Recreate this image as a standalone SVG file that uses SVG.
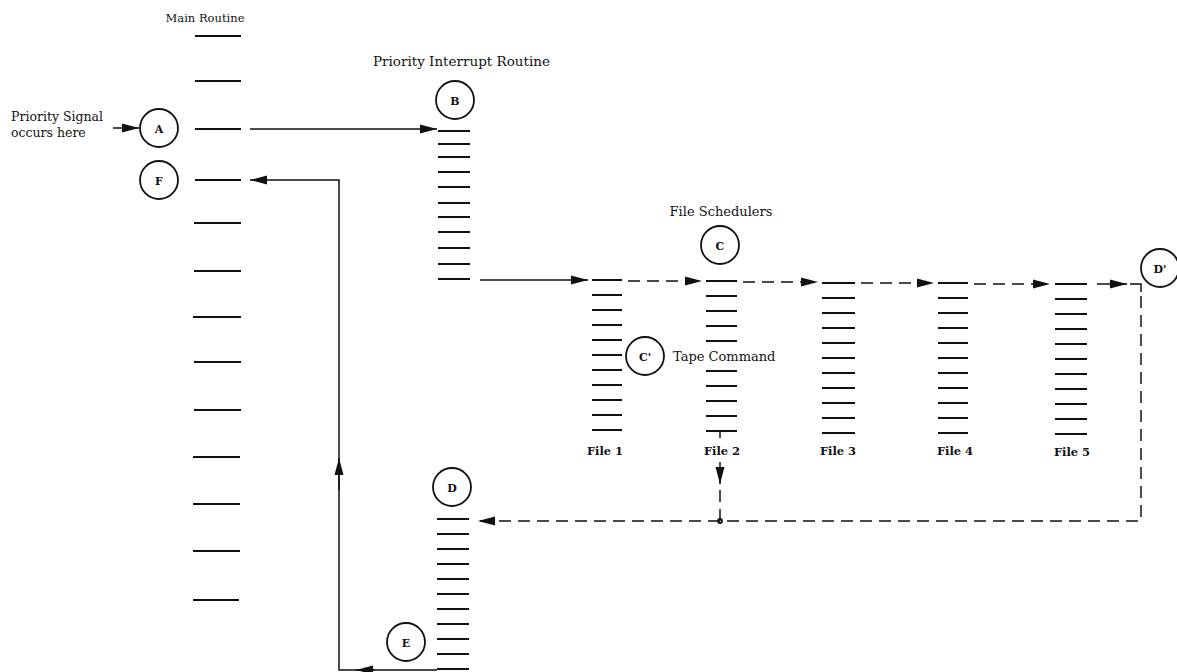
<svg xmlns="http://www.w3.org/2000/svg" width="1177" height="672" viewBox="0 0 1177 672">
<style>
text{font-family:"DejaVu Serif","Liberation Serif",serif;fill:#111}
.lbl{font-size:13px}
.fl{font-size:11.5px;font-weight:bold;text-anchor:middle}
.cl{font-size:11px;font-weight:bold;text-anchor:middle;dominant-baseline:central}
.st line{stroke:#111;stroke-width:2}
circle{fill:none;stroke:#111;stroke-width:1.8}
.c{fill:none;stroke:#111;stroke-width:1.5}
.d{stroke-dasharray:12 7}
</style>
<defs>
<marker id="ah" markerUnits="userSpaceOnUse" markerWidth="18" markerHeight="10" refX="17" refY="5" orient="auto">
<path d="M0,0.5 L17,5 L0,9.5 z" fill="#111"/>
</marker>
</defs>

<g id="main-routine" class="st">
<text x="205" y="22" text-anchor="middle" style="font-size:11.5px">Main Routine</text>
<line x1="195" y1="36" x2="241" y2="36"/>
<line x1="195" y1="81" x2="241" y2="81"/>
<line x1="195" y1="129" x2="241" y2="129"/>
<line x1="195" y1="180" x2="241" y2="180"/>
<line x1="194" y1="223" x2="241" y2="223"/>
<line x1="194" y1="271" x2="241" y2="271"/>
<line x1="193" y1="317" x2="241" y2="317"/>
<line x1="194" y1="362" x2="241" y2="362"/>
<line x1="194" y1="410" x2="241" y2="410"/>
<line x1="193" y1="457" x2="240" y2="457"/>
<line x1="193" y1="504" x2="240" y2="504"/>
<line x1="193" y1="551" x2="240" y2="551"/>
<line x1="193" y1="600" x2="239" y2="600"/>
</g>

<g id="signal-label">
<text x="11" y="121" style="font-size:12.5px">Priority Signal</text>
<text x="11" y="137" style="font-size:12.5px">occurs here</text>
</g>

<g id="node-A"><circle cx="159" cy="128" r="19"/><text class="cl" x="159" y="129">A</text></g>
<g id="node-F"><circle cx="159" cy="180" r="19"/><text class="cl" x="159" y="181">F</text></g>

<g id="priority-interrupt-routine" class="st">
<text x="373" y="66" style="font-size:13.5px">Priority Interrupt Routine</text>
<line x1="438" y1="131" x2="470" y2="131"/>
<line x1="438" y1="144" x2="470" y2="144"/>
<line x1="438" y1="157" x2="470" y2="157"/>
<line x1="438" y1="172" x2="470" y2="172"/>
<line x1="438" y1="187" x2="470" y2="187"/>
<line x1="438" y1="203" x2="470" y2="203"/>
<line x1="438" y1="217" x2="470" y2="217"/>
<line x1="438" y1="232" x2="470" y2="232"/>
<line x1="438" y1="248" x2="470" y2="248"/>
<line x1="438" y1="264" x2="470" y2="264"/>
<line x1="438" y1="279" x2="470" y2="279"/>
</g>
<g id="node-B"><circle cx="455" cy="100" r="19"/><text class="cl" x="455" y="101">B</text></g>

<g id="file-schedulers-label"><text class="lbl" x="721" y="216" text-anchor="middle">File Schedulers</text></g>
<g id="node-C"><circle cx="720" cy="245" r="19"/><text class="cl" x="720" y="246">C</text></g>

<g id="file1" class="st">
<line x1="592" y1="280" x2="622" y2="280"/><line x1="592" y1="295" x2="622" y2="295"/><line x1="592" y1="310" x2="622" y2="310"/><line x1="592" y1="325" x2="622" y2="325"/><line x1="592" y1="340" x2="622" y2="340"/><line x1="592" y1="355" x2="622" y2="355"/><line x1="592" y1="370" x2="622" y2="370"/><line x1="592" y1="385" x2="622" y2="385"/><line x1="592" y1="400" x2="622" y2="400"/><line x1="592" y1="415" x2="622" y2="415"/><line x1="592" y1="430" x2="622" y2="430"/>
<text class="fl" x="605" y="455">File 1</text>
</g>
<g id="file2" class="st">
<line x1="706" y1="281" x2="737" y2="281"/><line x1="706" y1="296" x2="737" y2="296"/><line x1="706" y1="311" x2="737" y2="311"/><line x1="706" y1="326" x2="737" y2="326"/><line x1="706" y1="341" x2="737" y2="341"/><line x1="706" y1="371" x2="737" y2="371"/><line x1="706" y1="386" x2="737" y2="386"/><line x1="706" y1="401" x2="737" y2="401"/><line x1="706" y1="416" x2="737" y2="416"/><line x1="706" y1="431" x2="737" y2="431"/>
<text class="fl" x="722" y="455">File 2</text>
</g>
<g id="file3" class="st">
<line x1="822" y1="283" x2="855" y2="283"/><line x1="822" y1="298" x2="855" y2="298"/><line x1="822" y1="313" x2="855" y2="313"/><line x1="822" y1="328" x2="855" y2="328"/><line x1="822" y1="343" x2="855" y2="343"/><line x1="822" y1="358" x2="855" y2="358"/><line x1="822" y1="373" x2="855" y2="373"/><line x1="822" y1="388" x2="855" y2="388"/><line x1="822" y1="403" x2="855" y2="403"/><line x1="822" y1="418" x2="855" y2="418"/><line x1="822" y1="433" x2="855" y2="433"/>
<text class="fl" x="838" y="455">File 3</text>
</g>
<g id="file4" class="st">
<line x1="938" y1="283" x2="968" y2="283"/><line x1="938" y1="298" x2="968" y2="298"/><line x1="938" y1="313" x2="968" y2="313"/><line x1="938" y1="328" x2="968" y2="328"/><line x1="938" y1="343" x2="968" y2="343"/><line x1="938" y1="358" x2="968" y2="358"/><line x1="938" y1="373" x2="968" y2="373"/><line x1="938" y1="388" x2="968" y2="388"/><line x1="938" y1="403" x2="968" y2="403"/><line x1="938" y1="418" x2="968" y2="418"/><line x1="938" y1="433" x2="968" y2="433"/>
<text class="fl" x="955" y="455">File 4</text>
</g>
<g id="file5" class="st">
<line x1="1055" y1="284" x2="1087" y2="284"/><line x1="1055" y1="299" x2="1087" y2="299"/><line x1="1055" y1="314" x2="1087" y2="314"/><line x1="1055" y1="329" x2="1087" y2="329"/><line x1="1055" y1="344" x2="1087" y2="344"/><line x1="1055" y1="359" x2="1087" y2="359"/><line x1="1055" y1="374" x2="1087" y2="374"/><line x1="1055" y1="389" x2="1087" y2="389"/><line x1="1055" y1="404" x2="1087" y2="404"/><line x1="1055" y1="419" x2="1087" y2="419"/><line x1="1055" y1="434" x2="1087" y2="434"/>
<text class="fl" x="1072" y="456">File 5</text>
</g>

<g id="node-Cprime"><circle cx="645" cy="356" r="19"/><text class="cl" x="645" y="357">C'</text></g>
<g id="tape-command-label"><text class="lbl" x="673" y="361">Tape Command</text></g>
<g id="node-Dprime"><circle cx="1160" cy="268" r="19"/><text class="cl" x="1160" y="269">D'</text></g>

<g id="d-routine" class="st">
<line x1="437" y1="519" x2="469" y2="519"/><line x1="437" y1="534" x2="469" y2="534"/><line x1="437" y1="549" x2="469" y2="549"/><line x1="437" y1="564" x2="469" y2="564"/><line x1="437" y1="579" x2="469" y2="579"/><line x1="437" y1="594" x2="469" y2="594"/><line x1="437" y1="609" x2="469" y2="609"/><line x1="437" y1="624" x2="469" y2="624"/><line x1="437" y1="639" x2="469" y2="639"/><line x1="437" y1="654" x2="469" y2="654"/><line x1="437" y1="669" x2="469" y2="669"/>
</g>
<g id="node-D"><circle cx="452" cy="487" r="19"/><text class="cl" x="452" y="488">D</text></g>
<g id="node-E"><circle cx="406" cy="642" r="19"/><text class="cl" x="406" y="643">E</text></g>

<g id="connectors">
<line class="c" x1="113" y1="128" x2="139" y2="128" marker-end="url(#ah)"/>
<line class="c" x1="250" y1="129" x2="437" y2="129" marker-end="url(#ah)"/>
<line class="c" x1="480" y1="280" x2="588" y2="280" marker-end="url(#ah)"/>
<line class="c d" x1="628" y1="281" x2="702" y2="281" marker-end="url(#ah)"/>
<line class="c d" x1="743" y1="282" x2="818" y2="282" marker-end="url(#ah)"/>
<line class="c d" x1="861" y1="283" x2="934" y2="283" marker-end="url(#ah)"/>
<line class="c d" x1="974" y1="284" x2="1050" y2="284" marker-end="url(#ah)"/>
<line class="c" x1="1097" y1="284" x2="1127" y2="284" marker-end="url(#ah)"/>
<polyline class="c" points="1130,284 1141,284 1141,292"/>
<polyline class="c d" points="1141,296 1141,521 478,521" marker-end="url(#ah)"/>
<line class="c" x1="720" y1="431" x2="720" y2="438"/>
<line class="c" x1="720" y1="462" x2="720" y2="484" marker-end="url(#ah)"/>
<line class="c d" x1="720" y1="490" x2="720" y2="521"/>
<circle cx="720" cy="521" r="2" fill="#111" stroke="none"/>
<polyline class="c" points="437,670 339,670 339,180 250,180" marker-end="url(#ah)"/>
<line class="c" x1="375" y1="670" x2="356" y2="670" marker-end="url(#ah)"/>
<line class="c" x1="339" y1="490" x2="339" y2="458" marker-end="url(#ah)"/>
</g>
</svg>
